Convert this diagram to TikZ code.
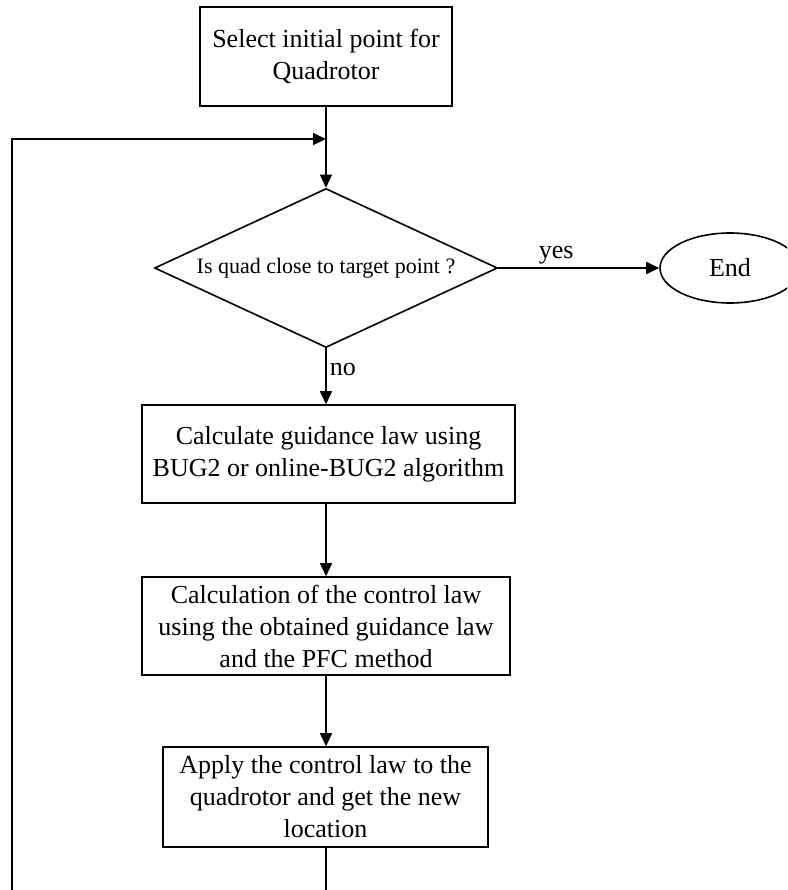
\documentclass[tikz,border=0pt]{standalone}
\usepackage{fontspec}
\setmainfont{Liberation Serif}
\usetikzlibrary{shapes.geometric,arrows.meta}
\begin{document}
\begin{tikzpicture}[x=1pt,y=-1pt,
  every node/.style={font=\fontsize{26}{32}\selectfont, align=center},
  procbox/.style={draw, line width=1.6pt, inner sep=0pt},
  decision/.style={draw, line width=1.6pt, shape=diamond, inner sep=0pt, aspect=2.16},
  terminal/.style={draw, line width=1.6pt, shape=ellipse, inner sep=0pt},
  flow/.style={line width=1.6pt, -{Triangle[length=13pt,width=12pt]}},
  plain/.style={line width=1.6pt},
  lbl/.style={font=\fontsize{26}{30}\selectfont, inner sep=3pt}]
\useasboundingbox (0,0) rectangle (787,890);
\clip (0,0) rectangle (787,890);
\node[procbox, minimum width=252pt, minimum height=99pt] (start) at (326,56.5) {Select initial point for\\Quadrotor};
\node[decision, minimum width=343pt, minimum height=159pt, font=\fontsize{22}{26}\selectfont] (dec) at (326,268) {Is quad close to target point ?};
\node[terminal, minimum width=140pt, minimum height=70pt] (end) at (730,268) {End};
\node[procbox, minimum width=373pt, minimum height=98pt] (guid) at (328.5,454) {Calculate guidance law using\\BUG2 or online-BUG2 algorithm};
\node[procbox, minimum width=368pt, minimum height=98pt] (ctrl) at (326,626) {Calculation of the control law\\using the obtained guidance law\\and the PFC method};
\node[procbox, minimum width=325pt, minimum height=100pt] (apply) at (325.5,797) {Apply the control law to the\\quadrotor and get the new\\location};
\coordinate (join) at (326,139);
\coordinate (loopbl) at (12,890);
\coordinate (loopbb) at (326,890);
\draw[flow] (start.south) -- (dec.north);
\draw[flow] (loopbl) |- (join);
\draw[flow] (dec.east) -- node[lbl, above, pos=0.36] {yes} (end.west);
\draw[flow] (dec.south) -- node[lbl, right, pos=0.38] {no} (guid.north -| dec.south);
\draw[flow] (guid.south -| ctrl.north) -- (ctrl.north);
\draw[flow] (ctrl.south) -- (apply.north -| ctrl.south);
\draw[plain] (apply.south -| loopbb) -- (loopbb);
\end{tikzpicture}
\end{document}
